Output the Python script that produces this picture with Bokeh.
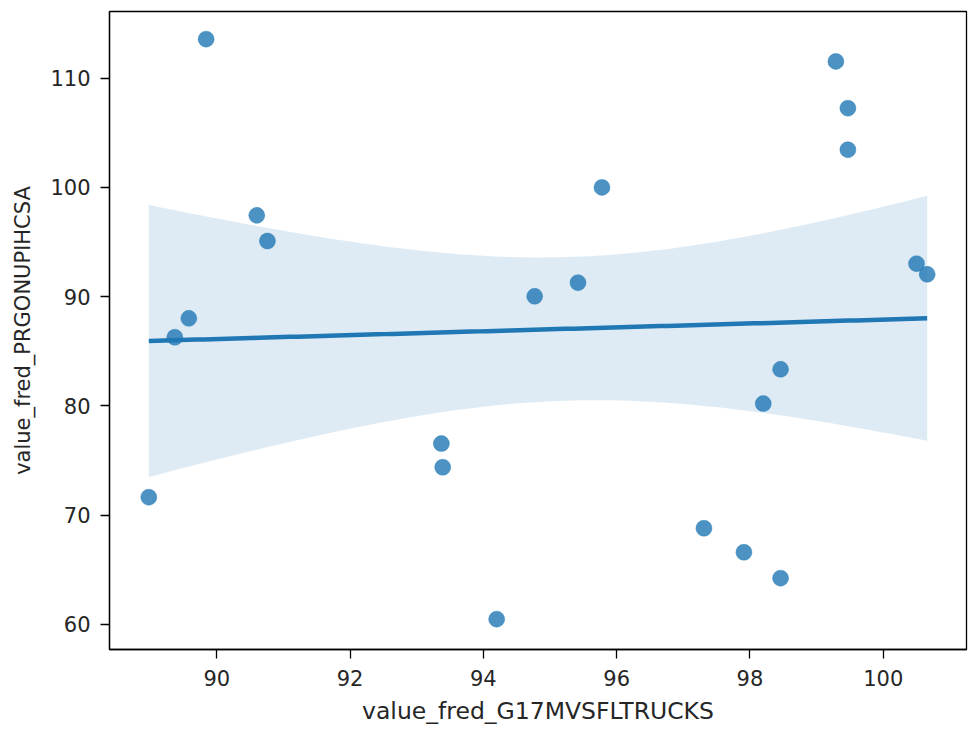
import numpy as np
from bokeh.plotting import figure
from bokeh.models import Range1d, FixedTicker
from bokeh.embed import file_html
from bokeh.resources import INLINE

# Data
x_vals = [89.84, 90.60, 90.76, 88.98, 89.37, 89.58, 99.29, 99.47, 99.47, 100.50,
          100.66, 98.46, 98.20, 97.31, 97.91, 98.46, 95.78, 95.42, 94.77, 93.37,
          93.39, 94.20]
y_vals = [113.58, 97.45, 95.10, 71.65, 86.29, 88.02, 111.54, 107.26, 103.46, 93.03,
          92.05, 83.36, 80.22, 68.81, 66.61, 64.24, 100.01, 91.29, 90.04, 76.56,
          74.39, 60.49]
x_ticks = [90, 92, 94, 96, 98, 100]
y_ticks = [60, 70, 80, 90, 100, 110]
x_label = "value_fred_G17MVSFLTRUCKS"
y_label = "value_fred_PRGONUPIHCSA"

x = np.array(x_vals)
y = np.array(y_vals)
n = len(x)
slope, intercept = np.polyfit(x, y, 1)
xg = np.linspace(x.min(), x.max(), 100)
yg = intercept + slope * xg
resid = y - (intercept + slope * x)
s = np.sqrt(np.sum(resid ** 2) / (n - 2))
sxx = np.sum((x - x.mean()) ** 2)
z_crit = 1.96  # 95% interval
half = z_crit * s * np.sqrt(1.0 / n + (xg - x.mean()) ** 2 / sxx)

FONT = "DejaVu Sans"
C0 = "#1f77b4"

p = figure(width=972, height=732, output_backend="svg", toolbar_location=None,
           x_range=Range1d(88.39, 101.25), y_range=Range1d(57.71, 116.11),
           min_border_left=109, min_border_right=6, min_border_top=11,
           min_border_bottom=83)
p.background_fill_color = "white"
p.border_fill_color = "white"
p.outline_line_color = "black"
p.outline_line_width = 1.3
p.xgrid.visible = False
p.ygrid.visible = False

p.varea(x=xg, y1=yg - half, y2=yg + half, fill_color=C0, fill_alpha=0.15)
p.line(xg, yg, line_color=C0, line_width=4.5)
p.scatter(x, y, size=16, fill_color=C0, fill_alpha=0.8, line_color=C0,
          line_alpha=0.8, line_width=0.5)

for ax, ticks, label in ((p.xaxis[0], x_ticks, x_label), (p.yaxis[0], y_ticks, y_label)):
    ax.ticker = FixedTicker(ticks=ticks)
    ax.axis_label = label
    ax.axis_label_text_font = FONT
    ax.axis_label_text_font_style = "normal"
    ax.axis_label_text_color = "#262626"
    ax.major_label_text_font = FONT
    ax.major_label_text_font_size = "21px"
    ax.major_label_text_color = "#262626"
    ax.axis_line_color = "black"
    ax.axis_line_width = 1.3
    ax.major_tick_line_color = "black"
    ax.major_tick_line_width = 1.3
    ax.major_tick_out = 9
    ax.major_tick_in = 0
    ax.minor_tick_out = 0
    ax.minor_tick_in = 0

xa = p.xaxis[0]
xa.axis_label_text_font_size = "23.5px"
xa.major_label_standoff = 11
xa.axis_label_standoff = 8

ya = p.yaxis[0]
ya.axis_label_text_font_size = "21px"
ya.major_label_standoff = 10
ya.axis_label_standoff = 12

open("out.html", "w").write(file_html(p, INLINE))
